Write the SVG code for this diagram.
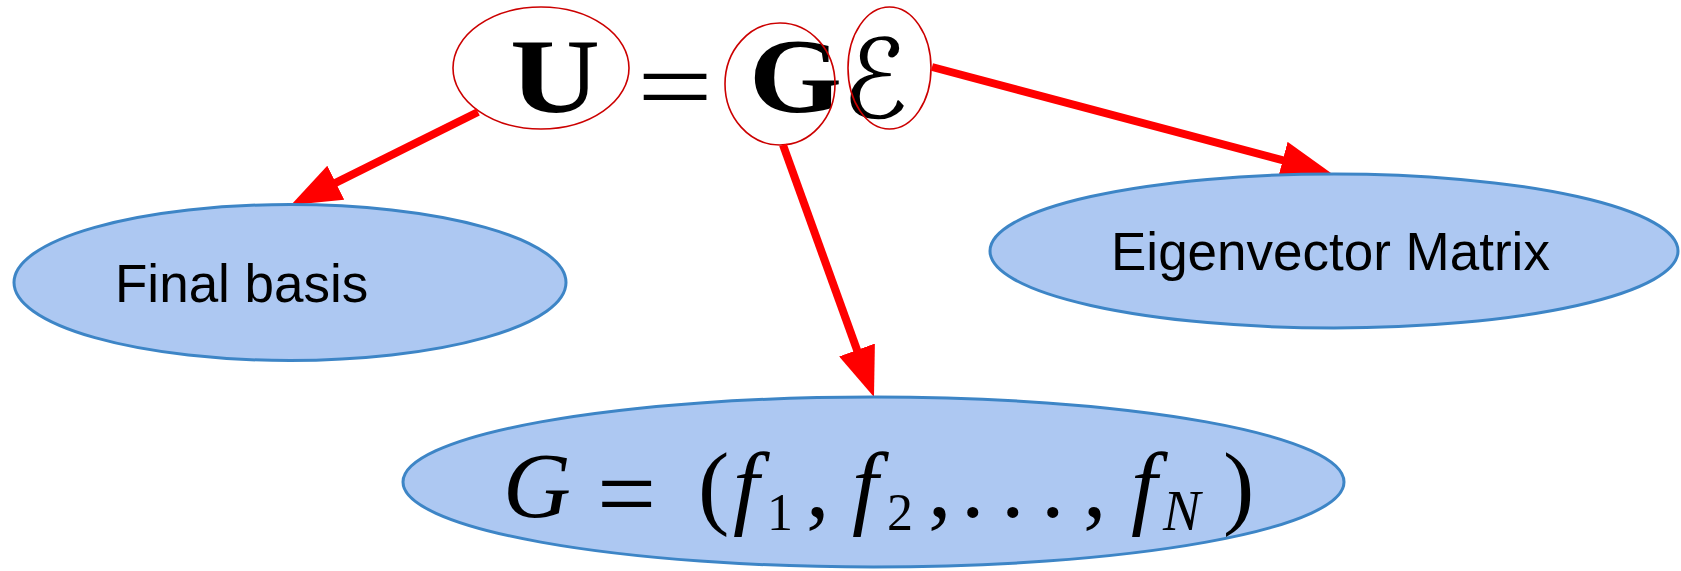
<svg xmlns="http://www.w3.org/2000/svg" width="1681" height="571" viewBox="0 0 1681 571">
<style>
.node{fill:#adc8f2;stroke:#3d85c6;stroke-width:3}
.hl{fill:none;stroke:#cc0000;stroke-width:1.6}
.lbl{font-family:"Liberation Sans",Arial,sans-serif;font-size:53px;fill:#000}
.math{font-family:"Liberation Serif","Times New Roman",serif;fill:#000}
.it{font-style:italic}
.edge{stroke:#ff0000;stroke-width:8;fill:none}
</style>
<defs>
<marker id="ah" markerUnits="userSpaceOnUse" markerWidth="50" markerHeight="38" refX="30" refY="19" orient="auto">
<path d="M0,0 L50,19 L0,38 z" fill="#ff0000"/>
</marker>
</defs>
<rect width="1681" height="571" fill="#ffffff"/>
<g id="equation">
<text class="math" font-weight="bold" font-size="106" x="510" y="112" textLength="90" lengthAdjust="spacingAndGlyphs">U</text>
<text class="math" font-size="105" x="637" y="122" textLength="76" lengthAdjust="spacingAndGlyphs">=</text>
<text class="math" font-weight="bold" font-size="106" x="749" y="112" textLength="93" lengthAdjust="spacingAndGlyphs">G</text>
<text font-family="DejaVu Serif,DejaVu Sans,serif" font-size="110" x="875" y="118" text-anchor="middle">ℰ</text>
<ellipse class="hl" cx="541" cy="68" rx="88" ry="61"/>
<ellipse class="hl" cx="780" cy="84" rx="55" ry="61"/>
<ellipse class="hl" cx="889.5" cy="68" rx="41.5" ry="61"/>
</g>
<g id="connectors">
<line class="edge" x1="478" y1="112" x2="308.9" y2="196.1" marker-end="url(#ah)"/>
<line class="edge" x1="783" y1="145" x2="867.2" y2="378.2" marker-end="url(#ah)"/>
<line class="edge" x1="932" y1="67" x2="1311.7" y2="167.9" marker-end="url(#ah)"/>
</g>
<g id="final-basis">
<ellipse class="node" cx="290" cy="282.5" rx="276" ry="78"/>
<text class="lbl" x="115" y="302">Final basis</text>
</g>
<g id="eigenvector-matrix">
<ellipse class="node" cx="1334" cy="251" rx="344" ry="77"/>
<text class="lbl" x="1111" y="270">Eigenvector Matrix</text>
</g>
<g id="G-def">
<ellipse class="node" cx="873.5" cy="482" rx="470.5" ry="85"/>
<text class="math" font-size="94"><tspan class="it" x="503" y="517">G</tspan><tspan x="597" y="529" font-size="105">=</tspan><tspan x="698" y="517">(</tspan><tspan class="it" x="733" y="517">f</tspan><tspan x="767" y="530" font-size="52">1</tspan><tspan x="806" y="517">,</tspan><tspan class="it" x="852" y="517">f</tspan><tspan x="887" y="530" font-size="52">2</tspan><tspan x="928" y="517">,</tspan><tspan x="961" y="517">.</tspan><tspan x="1001" y="517">.</tspan><tspan x="1041" y="517">.</tspan><tspan x="1083" y="517">,</tspan><tspan class="it" x="1131" y="517">f</tspan><tspan class="it" x="1163" y="530" font-size="56">N</tspan><tspan x="1223" y="517">)</tspan></text>
</g>
</svg>
